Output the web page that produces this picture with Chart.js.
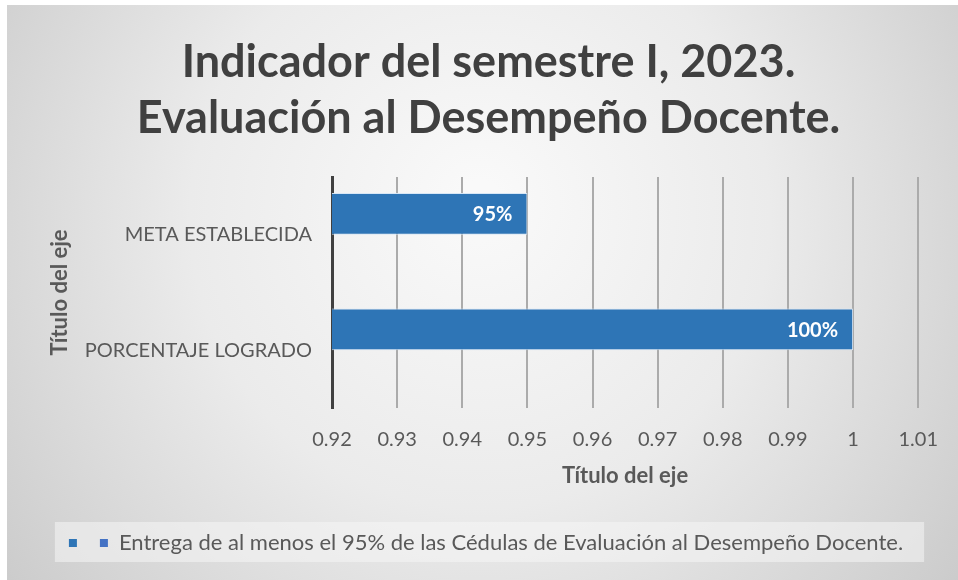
<!DOCTYPE html>
<html>
<head>
<meta charset="utf-8">
<script src="https://cdn.jsdelivr.net/npm/chart.js@4.4.0/dist/chart.umd.min.js"></script>
<style>
  html, body { margin: 0; padding: 0; background: #ffffff; }
  #wrap { position: relative; width: 958px; height: 580px; }
  canvas { display: block; }
</style>
</head>
<body>
<div id="wrap"><canvas id="c" width="958" height="580"></canvas></div>
<script>
// ---- data ----
const categories = ['META ESTABLECIDA', 'PORCENTAJE LOGRADO'];
const seriesValues = [0.95, 1.00];
const emptySeries = [null, null];
const seriesName = 'Entrega de al menos el 95% de las Cédulas de Evaluación al Desempeño Docente.';
const titleLines = ['Indicador del semestre I, 2023.', 'Evaluación al Desempeño Docente.'];
const axisTitle = 'Título del eje';
const xMin = 0.92, xMax = 1.01, xStep = 0.01;

const FONT = 'Lato, Calibri, Carlito, sans-serif';
const LEGEND_SHIFT = 6;

const shiftPlugin = {
  id: 'shift',
  afterLayout(chart) {
    if (chart.titleBlock) { chart.titleBlock.left += 17; }
    if (chart.legend) { chart.legend.left += LEGEND_SHIFT; chart.legend.right += LEGEND_SHIFT; }
  }
};

const bgPlugin = {
  id: 'bg',
  beforeDraw(chart) {
    const ctx = chart.ctx;
    const x0 = 7, y0 = 5, w = chart.width - x0, h = chart.height - y0;
    ctx.save();
    ctx.fillStyle = '#ffffff';
    ctx.fillRect(0, 0, chart.width, chart.height);
    const g = ctx.createRadialGradient(480, 200, 20, 480, 240, 620);
    g.addColorStop(0, '#f9f9f9');
    g.addColorStop(0.45, '#ebebeb');
    g.addColorStop(1, '#c8c8c8');
    ctx.fillStyle = g;
    ctx.fillRect(x0, y0, w, h);
    // legend box
    const lg = chart.legend;
    if (lg && lg.legendHitBoxes && lg.legendHitBoxes.length) {
      const boxes = lg.legendHitBoxes;
      let l = Infinity, r = -Infinity;
      boxes.forEach(b => { l = Math.min(l, b.left); r = Math.max(r, b.left + b.width); });
      ctx.fillStyle = 'rgba(245,245,245,0.55)';
      ctx.fillRect(l - 14, lg.top + 2, (r - l) + 35, lg.height - 4);
    }
    ctx.restore();
  }
};

const labelPlugin = {
  id: 'barLabels',
  afterDatasetsDraw(chart) {
    const ctx = chart.ctx;
    const meta = chart.getDatasetMeta(0);
    ctx.save();
    ctx.font = 'bold 20px ' + FONT;
    ctx.fillStyle = '#ffffff';
    ctx.textAlign = 'right';
    ctx.textBaseline = 'middle';
    meta.data.forEach((bar, i) => {
      const v = chart.data.datasets[0].data[i];
      if (v == null) return;
      ctx.fillText(Math.round(v * 100) + '%', bar.x - 15, bar.y + 1);
    });
    ctx.restore();
  }
};

new Chart(document.getElementById('c'), {
  type: 'bar',
  data: {
    labels: categories,
    datasets: [
      {
        label: '',
        data: seriesValues,
        backgroundColor: '#2E75B6',
        borderColor: 'rgba(214,230,246,0.95)',
        borderWidth: 1,
        barPercentage: 1.0,
        categoryPercentage: 0.725
      },
      {
        label: seriesName,
        data: emptySeries,
        backgroundColor: '#4472C4',
        barPercentage: 1.0,
        categoryPercentage: 0.725
      }
    ]
  },
  plugins: [bgPlugin, shiftPlugin, labelPlugin],
  options: {
    indexAxis: 'y',
    responsive: false,
    animation: false,
    devicePixelRatio: 1,
    layout: { padding: { left: 40, right: 38, top: 5, bottom: 16 } },
    plugins: {
      title: {
        display: true,
        text: titleLines,
        color: '#404040',
        font: { family: FONT, size: 45, weight: 'bold', lineHeight: 1.245 },
        padding: { top: 29, bottom: 31 }
      },
      legend: {
        display: true,
        position: 'bottom',
        labels: {
          color: '#595959',
          font: { family: FONT, size: 22 },
          boxWidth: 8,
          boxHeight: 8,
          padding: 12,
          generateLabels(chart) {
            return chart.data.datasets.map((ds, i) => ({
              text: ds.label,
              fillStyle: ds.backgroundColor,
              strokeStyle: ds.backgroundColor,
              lineWidth: 0,
              hidden: false,
              datasetIndex: i,
              fontColor: '#595959'
            }));
          }
        }
      },
      tooltip: { enabled: false }
    },
    scales: {
      x: {
        type: 'linear',
        min: xMin,
        max: xMax,
        ticks: {
          stepSize: xStep,
          color: '#595959',
          font: { family: FONT, size: 20 },
          padding: 20,
          callback: v => String(Math.round(v * 100) / 100)
        },
        grid: { color: '#ababab', lineWidth: 2, drawTicks: false },
        border: { display: false },
        title: {
          display: true,
          text: axisTitle,
          color: '#595959',
          font: { family: FONT, size: 22, weight: 'bold', lineHeight: 1.2 },
          padding: { top: 4, bottom: 31 }
        },
        afterFit(scale) { scale.height = 112; }
      },
      y: {
        type: 'category',
        ticks: {
          color: '#595959',
          font: { family: FONT, size: 20 },
          padding: 20
        },
        grid: { display: false, drawTicks: false },
        border: { display: true, color: '#404040', width: 3 },
        title: {
          display: true,
          text: axisTitle,
          color: '#595959',
          font: { family: FONT, size: 22, weight: 'bold', lineHeight: 1.2 },
          padding: { top: 7, bottom: 0 }
        },
        afterFit(scale) { scale.width = 332 - 40; }
      }
    }
  }
});
</script>
</body>
</html>
